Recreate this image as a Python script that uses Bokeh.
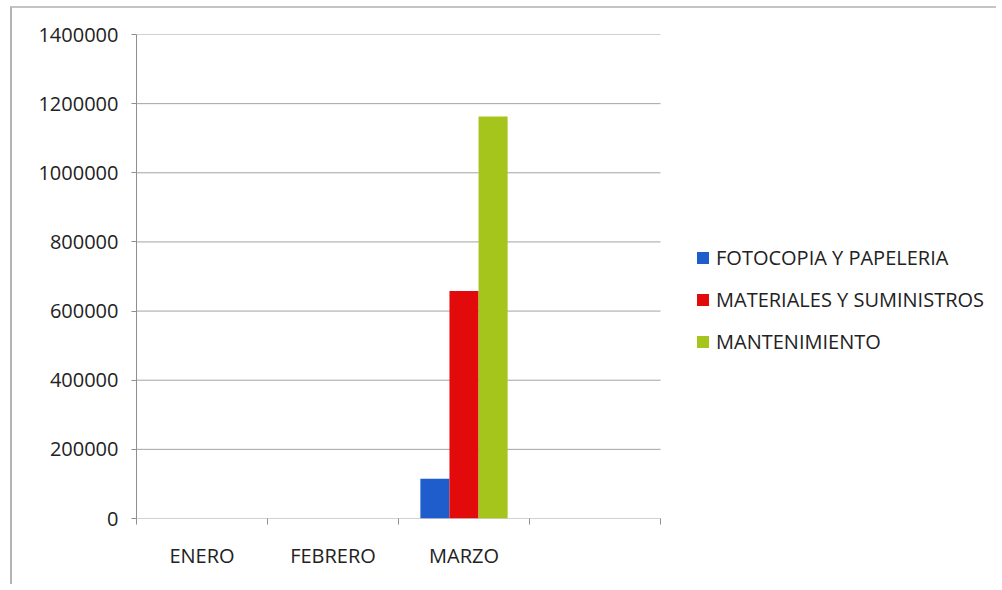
from bokeh.plotting import figure
from bokeh.models import Range1d, FixedTicker, Legend, LegendItem, ColumnDataSource, NumeralTickFormatter
from bokeh.transform import dodge
from bokeh.embed import file_html
from bokeh.resources import INLINE

# ---- data ----
categories = ["ENERO", "FEBRERO", "MARZO", ""]
series_names = ["FOTOCOPIA Y PAPELERIA", "MATERIALES Y SUMINISTROS", "MANTENIMIENTO"]
fotocopia = [0, 0, 115000, 0]
materiales = [0, 0, 658000, 0]
mantenimiento = [0, 0, 1163000, 0]
y_ticks = [0, 200000, 400000, 600000, 800000, 1000000, 1200000, 1400000]

colors = ["#1f5ccc", "#e20a0a", "#a5c51c"]
GRID = "#a3a3a3"
AXIS = "#8f8f8f"
FONT = "Open Sans"

# layout (pixels)
W, H = 986, 578
LEFT, RIGHT, TOP, BOTTOM = 124, 10, 26, 68
CAT_AREA_W = 524                       # width taken by the category axis
frame_w = W - LEFT - RIGHT
n = len(categories)
x_end = n * frame_w / CAT_AREA_W       # leaves room for the legend inside the frame

x_centers = [i + 0.5 for i in range(n)]
source = ColumnDataSource(dict(x=x_centers, fotocopia=fotocopia,
                               materiales=materiales, mantenimiento=mantenimiento))

p = figure(width=W, height=H, output_backend="svg", toolbar_location=None,
           x_range=Range1d(0, x_end), y_range=Range1d(y_ticks[0], y_ticks[-1]),
           min_border_left=LEFT, min_border_right=RIGHT, min_border_top=TOP, min_border_bottom=BOTTOM)
p.styles = {"margin-left": "10px", "margin-top": "6px",
            "border-left": "2px solid #b4b4b4", "border-top": "2px solid #c4c4c4"}
p.outline_line_color = None
p.background_fill_color = "white"
p.border_fill_color = "white"

# horizontal grid lines limited to the category area
p.segment(x0=[0] * len(y_ticks), x1=[n] * len(y_ticks), y0=y_ticks, y1=y_ticks,
          line_color=GRID, line_width=1)

bw = 0.222
renderers = []
for j, (col, c) in enumerate(zip(["fotocopia", "materiales", "mantenimiento"], colors)):
    r = p.vbar(x=dodge("x", (j - 1) * bw, range=p.x_range), top=col, bottom=0, width=bw,
               source=source, fill_color=c, line_color=None)
    renderers.append(r)

# y axis
p.yaxis.ticker = FixedTicker(ticks=y_ticks, minor_ticks=[])
p.yaxis.formatter = NumeralTickFormatter(format="0")
p.yaxis.axis_line_color = AXIS
p.yaxis.major_tick_line_color = AXIS
p.yaxis.major_tick_in = 0
p.yaxis.major_tick_out = 5
p.yaxis.minor_tick_line_color = None
p.yaxis.major_label_standoff = 13
p.yaxis.major_label_text_font = FONT
p.yaxis.major_label_text_font_size = "20px"
p.yaxis.major_label_text_color = "#222222"

# x axis: labels at category centres, ticks at category boundaries
p.xaxis.ticker = FixedTicker(ticks=[x for x, c in zip(x_centers, categories) if c],
                             minor_ticks=list(range(n + 1)))
p.xaxis.major_label_overrides = {x: c for x, c in zip(x_centers, categories) if c}
p.xaxis.major_tick_line_color = None
p.xaxis.major_tick_out = 6
p.xaxis.minor_tick_line_color = AXIS
p.xaxis.minor_tick_in = 0
p.xaxis.minor_tick_out = 6
p.xaxis.axis_line_color = None
p.xaxis.major_label_standoff = 17
p.xaxis.major_label_text_font = FONT
p.xaxis.major_label_text_font_size = "20px"
p.xaxis.major_label_text_color = "#222222"

p.xgrid.grid_line_color = None
p.ygrid.grid_line_color = None

legend = Legend(items=[LegendItem(label=s, renderers=[r]) for s, r in zip(series_names, renderers)],
                location=(559, 163), orientation="vertical",
                glyph_width=15, glyph_height=15, label_standoff=6,
                label_height=22, spacing=15, padding=0, margin=0,
                border_line_color=None, background_fill_alpha=0,
                label_text_font=FONT, label_text_font_size="20px", label_text_color="#222222")
p.add_layout(legend, "center")

open("out.html", "w").write(file_html(p, INLINE))
